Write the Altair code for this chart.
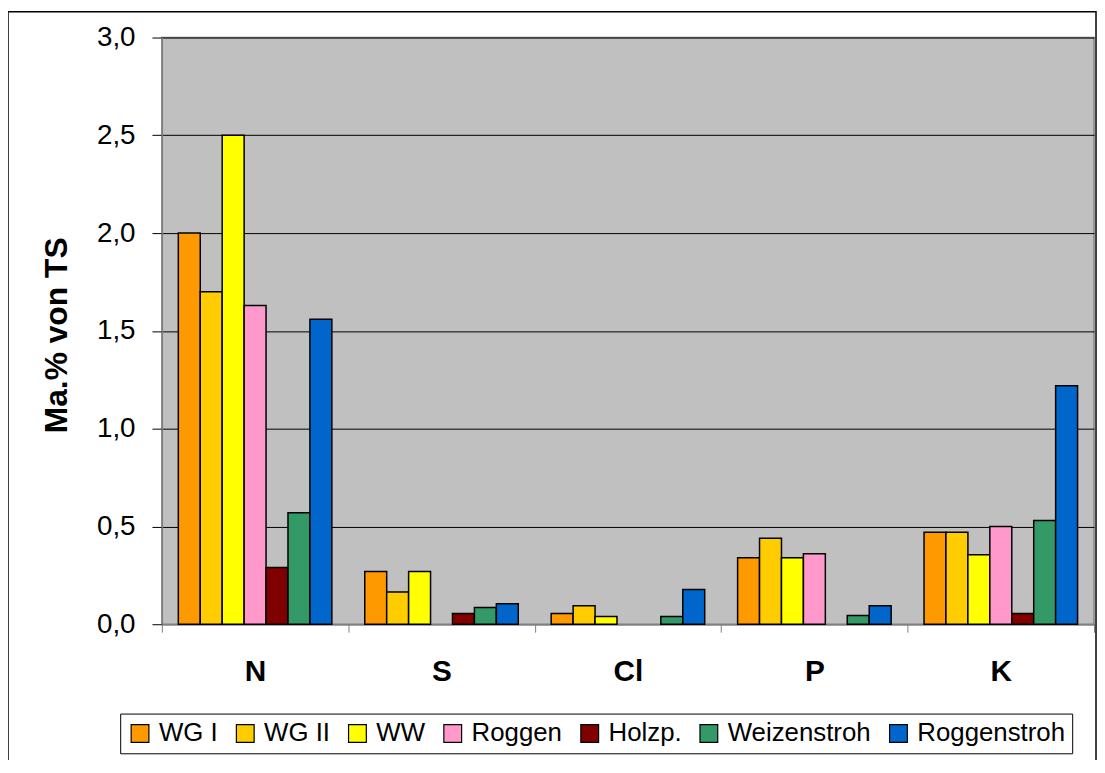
import altair as alt
import pandas as pd

elements = ["N", "S", "Cl", "P", "K"]
series = ["WG I", "WG II", "WW", "Roggen", "Holzp.", "Weizenstroh", "Roggenstroh"]
colors = ["#FF9900", "#FFCC00", "#FFFF00", "#FF99CC", "#800000", "#339966", "#0066CC"]

wg1 = [2.00, 0.27, 0.055, 0.34, 0.47]
wg2 = [1.70, 0.165, 0.095, 0.44, 0.47]
ww = [2.50, 0.27, 0.04, 0.34, 0.355]
roggen = [1.63, 0.0, 0.0, 0.36, 0.50]
holzp = [0.29, 0.055, 0.0, 0.0, 0.055]
weizenstroh = [0.57, 0.085, 0.04, 0.045, 0.53]
roggenstroh = [1.56, 0.105, 0.178, 0.095, 1.22]

y_ticks = [0.0, 0.5, 1.0, 1.5, 2.0, 2.5, 3.0]

values = [wg1, wg2, ww, roggen, holzp, weizenstroh, roggenstroh]
rows = []
for s, vals in zip(series, values):
    for e, v in zip(elements, vals):
        rows.append({"element": e, "series": s, "value": v})
df = pd.DataFrame(rows)

W, H = 939, 591

bars = alt.Chart(df).transform_filter("datum.value > 0").mark_bar(
    stroke="black", strokeWidth=1.5
).encode(
    x=alt.X(
        "element:N",
        sort=elements,
        scale=alt.Scale(paddingInner=0, paddingOuter=0),
        axis=alt.Axis(
            title=None,
            labelAngle=0,
            labelFont="Liberation Sans",
            labelFontSize=30,
            labelFontWeight="bold",
            labelColor="black",
            labelPadding=25,
            tickBand="extent",
            tickSize=8,
            tickColor="#808080",
            domainColor="#808080",
            domainWidth=1.5,
            grid=False,
        ),
    ),
    xOffset=alt.XOffset(
        "series:N", sort=series, scale=alt.Scale(paddingInner=0, paddingOuter=0.75)
    ),
    y=alt.Y(
        "value:Q",
        scale=alt.Scale(domain=[0, 3], nice=False, zero=True),
        axis=alt.Axis(
            title="Ma.% von TS",
            titleFont="Liberation Sans",
            titleFontSize=32,
            titleFontWeight="bold",
            titleColor="black",
            titleX=-96,
            titleY=H / 2 + 4,
            titleBaseline="alphabetic",
            values=y_ticks,
            labelExpr="replace(format(datum.value, '.1f'), '.', ',')",
            labelFont="Liberation Sans",
            labelFontSize=28,
            labelColor="black",
            labelPadding=17,
            tickSize=10,
            tickColor="black",
            domainColor="#808080",
            domainWidth=1.5,
            grid=True,
            gridColor="black",
            gridWidth=1,
        ),
    ),
    color=alt.Color(
        "series:N",
        sort=series,
        scale=alt.Scale(domain=series, range=colors),
        legend=alt.Legend(
            title=None,
            orient="none",
            direction="horizontal",
            legendX=-42,
            legendY=681,
            symbolType="square",
            symbolSize=320,
            symbolStrokeColor="black",
            symbolStrokeWidth=1.2,
            labelFont="Liberation Sans",
            labelFontSize=26,
            labelColor="black",
            labelOffset=6,
            columnPadding=14,
            padding=7,
            strokeColor="black",
            fillColor="white",
            labelLimit=400,
        ),
    ),
)

border = alt.Chart(pd.DataFrame({"k": [0]})).mark_rect(
    fill=None, stroke="black", strokeWidth=1.5
).encode(
    x=alt.value(-155), x2=alt.value(941), y=alt.value(-26), y2=alt.value(800)
)

chart = alt.layer(border, bars).properties(
    width=W,
    height=H,
    autosize=alt.AutoSizeParams(type="none"),
    padding={"left": 155, "top": 27, "right": 3, "bottom": 134},
).configure_view(
    fill="#C0C0C0", stroke="#808080", strokeWidth=1.5
)

chart.save("out.html", embed_options={"renderer": "svg", "actions": False})
